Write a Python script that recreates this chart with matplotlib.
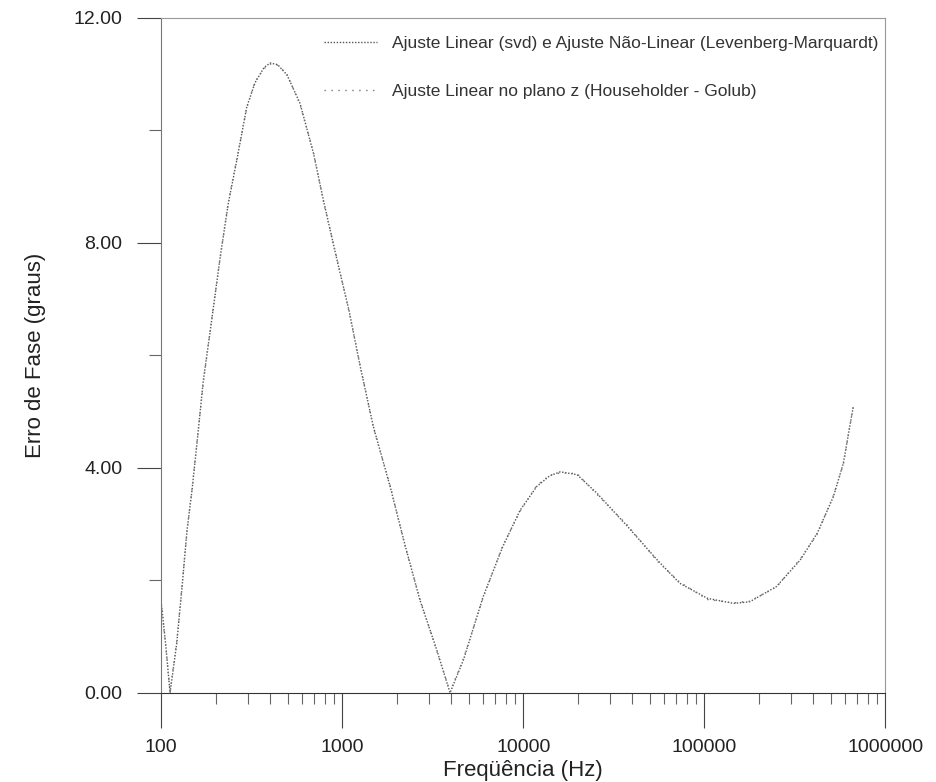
import matplotlib
matplotlib.use("Agg")
import matplotlib.pyplot as plt
from matplotlib.ticker import FixedLocator, LogLocator, NullFormatter, FuncFormatter

plt.rcParams['font.family'] = ['Liberation Sans', 'DejaVu Sans']

# frequencies (Hz)
freq = [100, 106, 112, 122, 131, 139, 148, 157, 171, 186, 212, 235, 262, 297,
        330, 370, 400, 440, 495, 585, 694, 787, 935, 1090, 1257, 1487, 1838,
        2221, 2685, 3330, 3940, 4675, 6000, 7700, 9610, 11870, 14000, 16000,
        19800, 25500, 37600, 55000, 73000, 104000, 145000, 178000, 250000,
        338000, 420000, 516000, 585000, 664000]

# phase error (degrees), svd + Levenberg-Marquardt
err_svd = [1.62, 0.85, 0.00, 0.89, 1.95, 2.90, 3.60, 4.38, 5.56, 6.40, 7.76,
           8.71, 9.48, 10.42, 10.85, 11.12, 11.20, 11.17, 10.99, 10.48, 9.59,
           8.76, 7.70, 6.80, 5.80, 4.73, 3.67, 2.63, 1.65, 0.76, 0.00, 0.59,
           1.71, 2.60, 3.25, 3.67, 3.86, 3.93, 3.88, 3.55, 2.96, 2.36, 1.95,
           1.68, 1.59, 1.62, 1.89, 2.36, 2.84, 3.49, 4.08, 5.09]

# phase error (degrees), Householder - Golub in the z plane
err_hg = [1.60, 0.83, 0.02, 0.92, 1.98, 2.88, 3.62, 4.40, 5.52, 6.42, 7.74,
          8.73, 9.50, 10.40, 10.87, 11.10, 11.18, 11.16, 11.00, 10.46, 9.61,
          8.74, 7.72, 6.78, 5.82, 4.71, 3.69, 2.61, 1.67, 0.74, 0.02, 0.61,
          1.69, 2.62, 3.23, 3.69, 3.87, 3.91, 3.90, 3.53, 2.98, 2.34, 1.97,
          1.66, 1.60, 1.63, 1.88, 2.38, 2.82, 3.51, 4.06, 5.10]

labels = ['Ajuste Linear (svd) e Ajuste Não-Linear (Levenberg-Marquardt)',
          'Ajuste Linear no plano z (Householder - Golub)']

fig = plt.figure(figsize=(9.37, 7.82), dpi=100)
ax = fig.add_axes([0.172, 0.114, 0.773, 0.863])

ax.plot(freq, err_svd, color='#555555', linestyle=(0, (1, 1.2)), linewidth=1.0, label=labels[0])
ax.plot(freq, err_hg, color='#777777', linestyle=(0, (1, 4)), linewidth=1.0, label=labels[1])

ax.set_xscale('log')
ax.set_xlim(100, 1000000)
ax.set_ylim(0, 12)

ax.xaxis.set_major_locator(FixedLocator([100, 1000, 10000, 100000, 1000000]))
ax.xaxis.set_major_formatter(FuncFormatter(lambda v, p: '%d' % round(v)))
ax.xaxis.set_minor_locator(LogLocator(base=10, subs=range(2, 10)))
ax.xaxis.set_minor_formatter(NullFormatter())

ax.yaxis.set_major_locator(FixedLocator([0, 4, 8, 12]))
ax.yaxis.set_minor_locator(FixedLocator([2, 6, 10]))
ax.yaxis.set_major_formatter(FuncFormatter(lambda v, p: '%.2f' % v))

ax.tick_params(axis='x', which='major', direction='out', length=25, width=0.8,
               color='#444444', labelsize=14, labelcolor='#222222', pad=8)
ax.tick_params(axis='y', which='major', direction='out', length=17, width=0.8,
               color='#444444', labelsize=14, labelcolor='#222222', pad=11)
ax.tick_params(axis='x', which='minor', direction='out', length=8, width=0.8,
               color='#666666')
ax.tick_params(axis='y', which='minor', direction='out', length=9, width=0.8,
               color='#666666')

for side, sp in ax.spines.items():
    sp.set_linewidth(0.8)
    sp.set_color('#999999')
ax.spines['bottom'].set_color('#333333')
ax.spines['left'].set_color('#777777')

ax.set_xlabel('Freqüência (Hz)', fontsize=16, color='#222222', labelpad=3)
ax.set_ylabel('Erro de Fase (graus)', fontsize=16, color='#222222', labelpad=20)

ax.legend(loc='upper right', bbox_to_anchor=(1.012, 0.997), frameon=False,
          fontsize=12.5, handlelength=3.0, labelspacing=1.9, handletextpad=0.9,
          labelcolor='#333333')

fig.savefig('out.png', dpi=100)
